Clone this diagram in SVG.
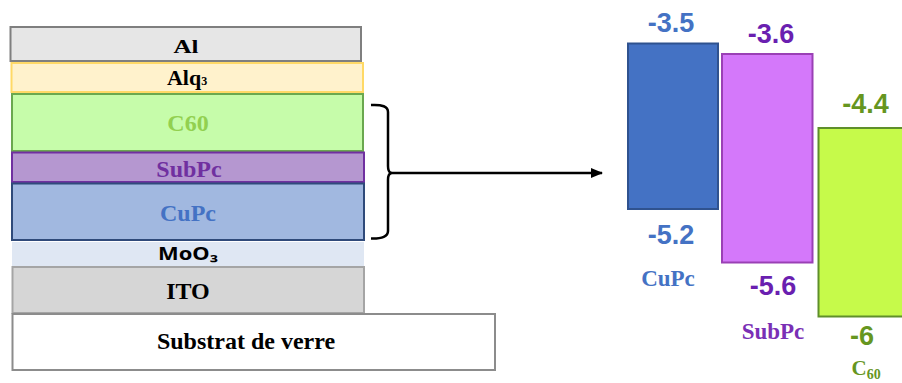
<svg xmlns="http://www.w3.org/2000/svg" width="902" height="383" viewBox="0 0 902 383">
<style>
.t{font-family:"Liberation Serif","Times New Roman",serif;font-weight:bold;text-anchor:middle}
.v{font-family:"Liberation Sans",Arial,sans-serif;font-weight:bold;text-anchor:middle;font-size:27px}
.conn{fill:none;stroke:#000;stroke-width:2.5}
</style>
<defs>
<marker id="ah" markerWidth="12" markerHeight="10" refX="11" refY="5" orient="auto" markerUnits="userSpaceOnUse">
<path d="M0,0 L12,5 L0,10 Z" fill="#000"/>
</marker>
</defs>
<rect width="902" height="383" fill="#fff"/>
<g id="layer-al">
<rect x="10.5" y="27" width="350.5" height="34" fill="#e6e6e6" stroke="#7f7f7f" stroke-width="2"/>
<text class="t" x="186" y="53" font-size="19" textLength="25" lengthAdjust="spacingAndGlyphs" fill="#000">Al</text>
</g>
<g id="layer-alq3">
<rect x="11.5" y="63" width="351.5" height="29" fill="#fff2cc" stroke="#ffd966" stroke-width="2"/>
<text class="t" x="187" y="85" font-size="22" fill="#000">Alq<tspan font-size="12">3</tspan></text>
</g>
<g id="layer-c60">
<rect x="12" y="94" width="351" height="57" fill="#c6fcaa" stroke="#6aa84f" stroke-width="2"/>
<text class="t" x="188" y="131" font-size="24" fill="#92d050">C60</text>
</g>
<g id="layer-subpc">
<rect x="12" y="152.5" width="352" height="29.5" fill="#b597d0" stroke="#7030a0" stroke-width="2"/>
<text class="t" x="189" y="177" font-size="24" fill="#7030a0">SubPc</text>
</g>
<g id="layer-cupc">
<rect x="12" y="183.5" width="352" height="56.5" fill="#a1b8e0" stroke="#2f4a7a" stroke-width="2"/>
<text class="t" x="188" y="221" font-size="24" fill="#4472c4">CuPc</text>
</g>
<g id="layer-moo3">
<rect x="12" y="242" width="352" height="24" fill="#dfe7f3"/>
<text x="188" y="260" font-family="'Noto Sans','DejaVu Sans',sans-serif" font-weight="bold" font-size="18" text-anchor="middle" textLength="60" lengthAdjust="spacingAndGlyphs" fill="#000">MoO₃</text>
</g>
<g id="layer-ito">
<rect x="12.5" y="267" width="351.5" height="46" fill="#d6d6d6" stroke="#a5a5a5" stroke-width="2"/>
<text class="t" x="188" y="298.5" font-size="24" fill="#000">ITO</text>
</g>
<g id="layer-substrat">
<rect x="12.5" y="314" width="482.5" height="56" fill="#fff" stroke="#8c8c8c" stroke-width="2"/>
<text class="t" x="246" y="349" font-size="24" fill="#000">Substrat de verre</text>
</g>
<g id="connectors">
<path class="conn" d="M371,105 Q388,104 388,112 L388,166 Q388,172 391,173 Q388,174 388,180 L388,231 Q388,239 371,238.5"/>
<line class="conn" x1="390" y1="173" x2="602" y2="173" marker-end="url(#ah)"/>
</g>
<g id="band-cupc">
<rect x="628" y="43.5" width="90" height="165.5" fill="#4472c4" stroke="#2f528f" stroke-width="2"/>
<text class="v" x="671" y="32" fill="#4472c4">-3.5</text>
<text class="v" x="671" y="243.5" fill="#4472c4">-5.2</text>
<text class="t" x="668" y="286" font-size="23" fill="#4472c4">CuPc</text>
</g>
<g id="band-subpc">
<rect x="722" y="54" width="90.5" height="208.5" fill="#d478fa" stroke="#9a40b5" stroke-width="2"/>
<text class="v" x="771" y="42.5" fill="#6a1fb0">-3.6</text>
<text class="v" x="773" y="295" fill="#6a1fb0">-5.6</text>
<text class="t" x="773" y="339" font-size="23" fill="#7a2fb5">SubPc</text>
</g>
<g id="band-c60">
<rect x="818.5" y="128" width="90" height="188.5" fill="#c6fa4a" stroke="#5f8f2a" stroke-width="2"/>
<text class="v" x="865.5" y="113" fill="#66961f">-4.4</text>
<text class="v" x="862" y="345" fill="#66961f">-6</text>
<text x="851.5" y="375" font-family="'Liberation Serif','Times New Roman',serif" font-weight="bold" font-size="21" fill="#66961f">C<tspan font-size="14" dy="4">60</tspan></text>
</g>
</svg>
